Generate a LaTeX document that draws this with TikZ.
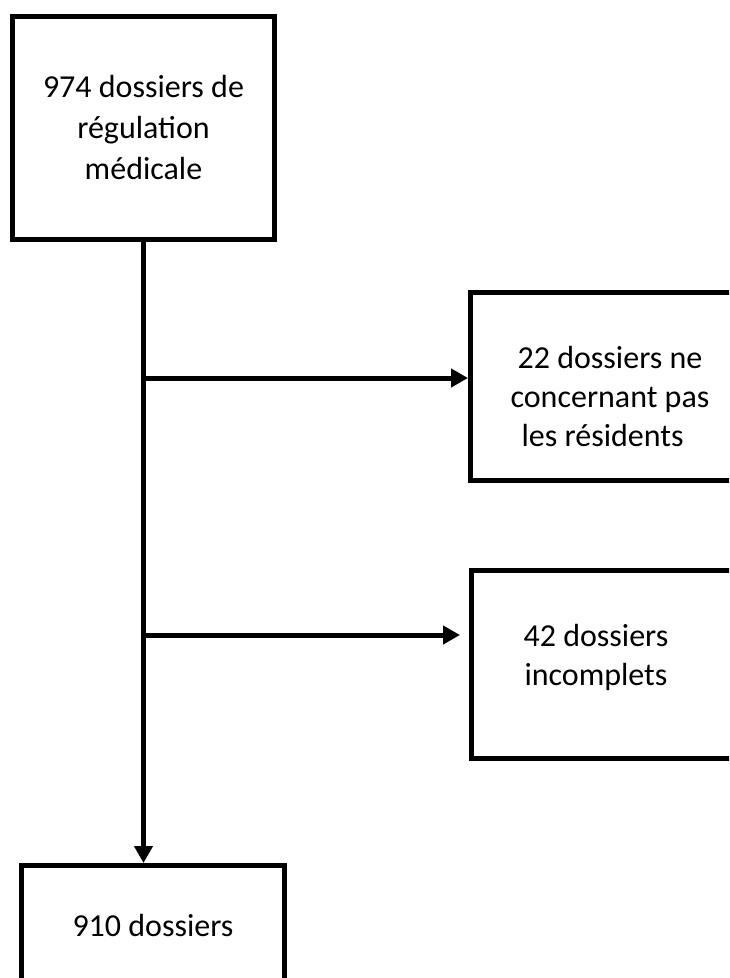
\documentclass[tikz,border=0pt]{standalone}
\usepackage{fontspec}
\setmainfont{Carlito}
\usetikzlibrary{
	positioning		% relative placement
	, arrows.meta		% Triangle tips
}

\begin{document}
\begin{tikzpicture}[x=1pt, y=-1pt]
	\begin{scope}[
		box/.style={draw=black, line width=5pt, inner sep=0pt, align=center,
			font=\fontsize{32}{41}\selectfont},
		txt/.style={inner sep=0pt, align=center, font=\fontsize{32}{39}\selectfont},
		flow/.style={line width=5pt, -{Triangle[length=17pt, width=18pt]}}]

		\useasboundingbox (0, 0) rectangle (729, 978);
		\clip (0, 0) rectangle (729, 978);

		%% Boxes
		\node[box, minimum width=262pt, minimum height=223pt] (total) at (143.5, 128)
			{974 dossiers de\\régulation\\médicale};
		\node[box, minimum width=300pt, minimum height=188pt] (excl1) at (620.5, 386.5) {};
		\node[box, minimum width=300pt, minimum height=188pt] (excl2) at (621.5, 664.5) {};
		\node[box, minimum width=263pt, minimum height=119pt] (final) at (153, 925)
			{910 dossiers};

		% Box texts on the right
		\node[txt] (excl1txt) at (610, 396) {22 dossiers ne\\concernant pas\\les résidents\hphantom{ii}};
		\node[txt] (excl2txt) at (596, 657) {42 dossiers\\incomplets};

		%% Connectors
		\coordinate (split1) at (143.5, 378);
		\coordinate (split2) at (143.5, 635);
		\draw[flow] (total.south) -- (total.south |- final.north);
		\draw[flow] (split1) -- (split1 -| excl1.west);
		\draw[flow, shorten >=9pt] (split2) -- (split2 -| excl2.west);
	\end{scope}
\end{tikzpicture}
\end{document}
